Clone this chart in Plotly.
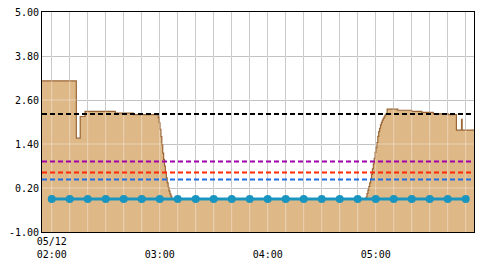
import plotly.graph_objects as go

DAY = "2024-05-12 "

# ---- data ----
AREA_TIMES = [
    "01:54:00", "02:13:40", "02:15:50", "02:18:30", "02:35:20", "02:45:20",
    "02:59:10", "02:59:40", "03:00:10", "03:00:40", "03:01:10", "03:01:40",
    "03:02:10", "03:02:40", "03:03:10", "03:03:40", "03:04:10", "03:04:40",
    "03:05:10", "03:05:40", "03:06:10", "03:06:40",
    "04:54:40", "04:55:10", "04:55:40", "04:56:10", "04:56:40", "04:57:10",
    "04:57:40", "04:58:10", "04:58:40", "04:59:10", "04:59:40", "05:00:10",
    "05:00:40", "05:01:10", "05:01:40", "05:02:10", "05:02:40", "05:03:10",
    "05:03:40", "05:04:10", "05:04:40", "05:05:10", "05:05:40",
    "05:06:20", "05:12:15", "05:20:00", "05:25:35", "05:32:00", "05:40:20",
    "05:44:50", "05:47:40", "05:48:00", "05:55:00",
]
AREA_LEVELS = [
    3.12, 1.56, 2.15, 2.29, 2.24, 2.20,
    2.12, 1.98, 1.80, 1.60, 1.38, 1.15,
    0.98, 0.80, 0.63, 0.48, 0.34, 0.22,
    0.12, 0.04, -0.02, -0.10,
    -0.05, 0.05, 0.14, 0.24, 0.34, 0.45,
    0.57, 0.72, 0.86, 1.01, 1.17, 1.30,
    1.44, 1.61, 1.74, 1.83, 1.92, 1.99,
    2.05, 2.10, 2.14, 2.19, 2.22,
    2.35, 2.32, 2.29, 2.26, 2.22, 2.20,
    1.78, 2.07, 1.78, 1.78,
]

POINT_TIMES = [
    "02:00", "02:10", "02:20", "02:30", "02:40", "02:50",
    "03:00", "03:10", "03:20", "03:30", "03:40", "03:50",
    "04:00", "04:10", "04:20", "04:30", "04:40", "04:50",
    "05:00", "05:10", "05:20", "05:30", "05:40", "05:50",
]
POINT_VALUES = [
    -0.10, -0.10, -0.10, -0.10, -0.10, -0.10,
    -0.10, -0.10, -0.10, -0.10, -0.10, -0.10,
    -0.10, -0.10, -0.10, -0.10, -0.10, -0.10,
    -0.10, -0.10, -0.10, -0.10, -0.10, -0.10,
]

THRESHOLDS = [2.22, 0.92, 0.62, 0.43]
THRESHOLD_COLORS = ["#000000", "#a000a8", "#ff2a00", "#1e6ee6"]

Y_TICKS = [-1.00, 0.20, 1.40, 2.60, 3.80, 5.00]
X_TICKS = POINT_TIMES
X_LABELS = {"02:00": "05/12<br>02:00", "03:00": " <br>03:00",
            "04:00": " <br>04:00", "05:00": " <br>05:00"}
X_RANGE = ["01:54:36", "05:54:36"]

# ---- build ----
area_x = [DAY + t for t in AREA_TIMES]
pt_x = [DAY + t for t in POINT_TIMES]
tick_x = [DAY + t for t in X_TICKS]
xr = [DAY + t for t in X_RANGE]
ymin, ymax = Y_TICKS[0], Y_TICKS[-1]

fig = go.Figure()
fig.add_trace(go.Scatter(x=area_x, y=[ymin] * len(area_x), mode="lines",
                         line=dict(width=0, shape="hv"), hoverinfo="skip",
                         showlegend=False))
fig.add_trace(go.Scatter(x=area_x, y=AREA_LEVELS, mode="lines",
                         line=dict(color="#9a6535", width=1.2, shape="hv"),
                         fill="tonexty", fillcolor="#deb887", showlegend=False))

# light grid drawn over the fill
gx, gy = [], []
for t in tick_x:
    gx += [t, t, None]
    gy += [ymin, ymax, None]
for v in Y_TICKS[1:-1]:
    gx += [xr[0], xr[1], None]
    gy += [v, v, None]
fig.add_trace(go.Scatter(x=gx, y=gy, mode="lines",
                         line=dict(color="rgba(255,255,255,0.38)", width=1),
                         hoverinfo="skip", showlegend=False))

fig.add_trace(go.Scatter(x=pt_x, y=POINT_VALUES, mode="lines+markers",
                         line=dict(color="#1a95c0", width=3),
                         marker=dict(color="#1a95c0", size=8),
                         showlegend=False))

for v, c in zip(THRESHOLDS, THRESHOLD_COLORS):
    fig.add_shape(type="line", xref="paper", x0=0, x1=1, yref="y", y0=v, y1=v,
                  line=dict(color=c, width=2, dash="5px,3px"), layer="above")

font = dict(family="DejaVu Sans Mono", size=10, color="#000000")
fig.update_layout(
    width=480, height=265,
    margin=dict(l=42, r=6, t=12, b=33),
    paper_bgcolor="white", plot_bgcolor="white",
    font=font,
    xaxis=dict(type="date", range=xr, tickvals=tick_x,
               ticktext=[X_LABELS.get(t, "") for t in X_TICKS],
               showgrid=True, gridcolor="#b4b4b4", gridwidth=1,
               showline=True, linecolor="black", linewidth=1, mirror=True,
               ticks="", zeroline=False, tickangle=0, tickfont=font),
    yaxis=dict(range=[ymin, ymax], tickvals=Y_TICKS,
               ticktext=["%.2f" % v for v in Y_TICKS],
               showgrid=True, gridcolor="#b4b4b4", gridwidth=1,
               showline=True, linecolor="black", linewidth=1, mirror=True,
               ticks="", zeroline=False, tickfont=font),
)

fig.write_html("out.html")
